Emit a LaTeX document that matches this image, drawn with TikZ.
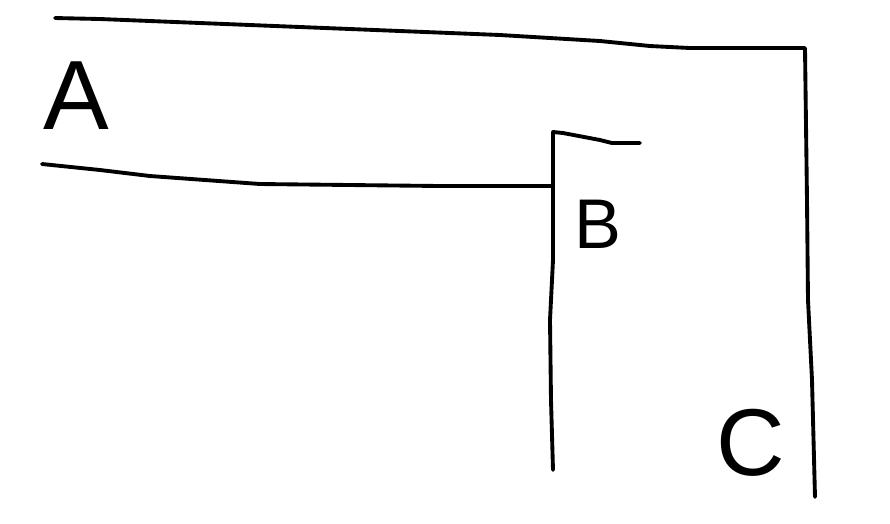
\documentclass[tikz,border=0pt]{standalone}
\usepackage{fontspec}
\setmainfont{Liberation Sans}
\usetikzlibrary{positioning}

\begin{document}
\begin{tikzpicture}[
    x=0.01cm, y=-0.01cm,
    wall/.style={draw=black, line width=1.1pt, line cap=round, line join=round},
    letter/.style={inner sep=0pt, font=\fontsize{#1}{#1}\selectfont},
]

% Frame of the page
\useasboundingbox (0,0) rectangle (890,523);

% === Outer wall (top and right side) ===
\draw[wall] (55,18) -- (100,19) -- (300,27) -- (500,35) -- (600,41)
    -- (650,46) -- (690,48) -- (805,48) -- (807,200) -- (808,300)
    -- (812,380) -- (815,497);

% === Inner wall (A to B) ===
\draw[wall] (42,164) -- (100,170) -- (150,176) -- (260,184)
    -- (440,186) -- (553,186);

% === Box B ===
\draw[wall] (640,143) -- (612,143) -- (600,140) -- (563,133)
    -- (553,132) -- (553,260) -- (550,320) -- (551,400) -- (553,470);

% Labels
\node[letter=28] (labelA) at (76,96) {A};
\node[letter=20] (labelB) at (598,224) {B};
\node[letter=27] (labelC) at (751,443) {C};

\end{tikzpicture}
\end{document}
